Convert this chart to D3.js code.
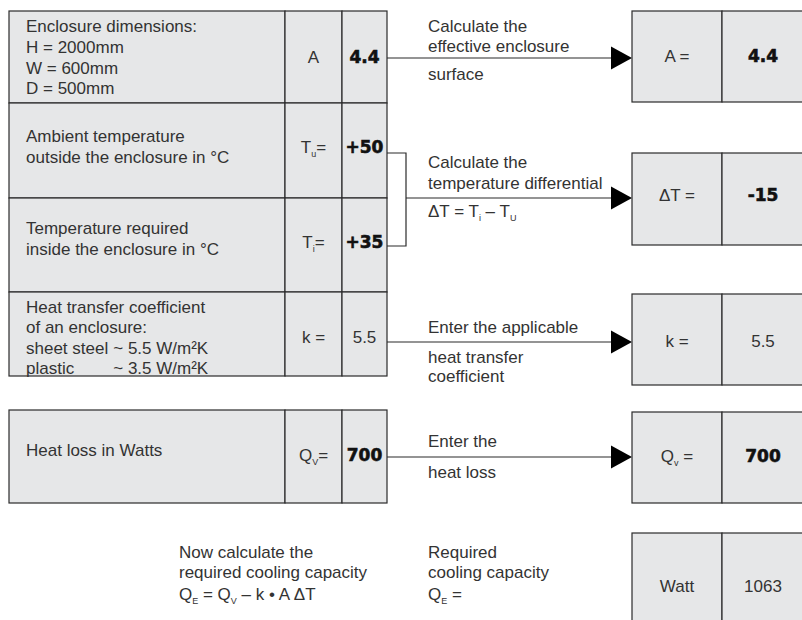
<!DOCTYPE html>
<html><head><meta charset="utf-8">
<script src="https://cdn.jsdelivr.net/npm/d3@7"></script>
<style>
html,body{margin:0;padding:0;background:#fff;}
svg{display:block;}
</style></head>
<body>
<svg id="c" width="802" height="620"></svg>
<script>
// ---------------- DATA ----------------
const inputLabels = [
  ["Enclosure dimensions:", "H = 2000mm", "W = 600mm", "D = 500mm"],
  ["Ambient temperature", "outside the enclosure in °C"],
  ["Temperature required", "inside the enclosure in °C"],
  ["Heat transfer coefficient", "of an enclosure:", "sheet steel|~ 5.5 W/m²K", "plastic|~ 3.5 W/m²K"],
  ["Heat loss in Watts"]
];
const inputSymbols = [["A", "", ""], ["T", "u", "="], ["T", "i", "="], ["k =", "", ""], ["Q", "V", "="]];
const inputValues = ["4.4", "+50", "+35", "5.5", "700"];
const inputBold = [true, true, true, false, true];

const stepTexts = [
  ["Calculate the", "effective enclosure", "surface"],
  ["Calculate the", "temperature differential", "ΔT = T_i – T_U"],
  ["Enter the applicable", "heat transfer", "coefficient"],
  ["Enter the", "heat loss"]
];
const resultSymbols = [["A =", "", ""], ["ΔT =", "", ""], ["k =", "", ""], ["Q", "v", " ="], ["Watt", "", ""]];
const resultValues = ["4.4", "-15", "5.5", "700", "1063"];
const resultBold = [true, true, false, true, false];

const finalLeft = ["Now calculate the", "required cooling capacity", "Q_E = Q_V – k • A ΔT"];
const finalMid = ["Required", "cooling capacity", "Q_E ="];

// ---------------- LAYOUT ----------------
const svg = d3.select("#c");
const FONT = "'Liberation Sans', Arial, Helvetica, sans-serif";
const BOLDFONT = "'DejaVu Sans', 'Liberation Sans', Arial, sans-serif";
const FS = 17, SUB = 9;
const TXT = "#333";
const FILL = "#e6e7e8";
const STROKE = "#2b2b2b";

const colX = { left: 9, sym: 285, val: 342, right: 387, bracket: 406, text: 428, arrowEnd: 632, rLeft: 632, rDiv: 722, rRight: 804 };

const inRows = [[11, 103], [103, 198], [198, 292], [292, 376], [410, 503]];
const inBaselines = [[32, 53, 74, 94], [142, 163], [234, 255], [313, 333, 354, 374], [456]];
const inSymBase = [63, 153, 248, 343, 461];
const resRows = [[11, 102], [153, 245], [294, 385], [412, 503], [533, 640]];
const resBase = [62, 201, 347, 462, 592];
const arrowY = [58, 198, 342, 457];
const stepBase = [[32, 52, 80], [168, 189, 217], [333, 363, 382], [447, 478]];

function addRich(g, str, xx, yy, anchor) {
  const t = g.append("text").attr("x", xx).attr("y", yy)
    .attr("font-family", FONT).attr("font-size", FS).attr("fill", TXT)
    .attr("text-anchor", anchor || "start");
  const parts = str.split(/(_[A-Za-z])/);
  let lowered = false;
  parts.forEach(p => {
    if (!p) return;
    if (p[0] === "_") {
      t.append("tspan").attr("font-size", SUB).attr("dy", 4).text(p.slice(1));
      lowered = true;
    } else {
      const s = t.append("tspan").text(p);
      if (lowered) { s.attr("dy", -4); lowered = false; }
    }
  });
  return t;
}
function addSymbol(g, sym, xx, yy) {
  const t = g.append("text").attr("x", xx).attr("y", yy)
    .attr("font-family", FONT).attr("font-size", FS).attr("fill", TXT)
    .attr("text-anchor", "middle");
  t.append("tspan").text(sym[0]);
  if (sym[1]) {
    t.append("tspan").attr("font-size", SUB).attr("dy", 4).text(sym[1]);
    t.append("tspan").attr("dy", -4).text(sym[2]);
  }
}
function addValue(g, v, bold, xx, yy) {
  const t = g.append("text").attr("x", xx).attr("y", yy)
    .attr("text-anchor", "middle")
    .attr("font-family", bold ? BOLDFONT : FONT)
    .attr("font-weight", bold ? 700 : 400)
    .attr("font-size", FS)
    .attr("fill", bold ? "#111" : TXT)
    .text(v);
  if (bold) t.attr("stroke", "#111").attr("stroke-width", 0.6);
}

// -------- left input table --------
const gL = svg.append("g");
let tildeX = 113;
const rowsL = gL.selectAll("g.row").data(inputLabels).join("g").attr("class", "row");
rowsL.each(function (lines, i) {
  const g = d3.select(this);
  const [y0, y1] = inRows[i];
  [[colX.left, colX.sym], [colX.sym, colX.val], [colX.val, colX.right]].forEach(([a, b]) => {
    g.append("rect").attr("x", a).attr("y", y0).attr("width", b - a).attr("height", y1 - y0)
      .attr("fill", FILL).attr("stroke", STROKE).attr("stroke-width", 1.2);
  });
  lines.forEach((ln, j) => {
    const parts = ln.split("|");
    if (parts.length > 1 && parts[0].startsWith("sheet")) {
      const t0 = addRich(g, parts[0], 26, inBaselines[i][j]);
      tildeX = 26 + t0.node().getComputedTextLength() + 5;
      addRich(g, parts[1], tildeX, inBaselines[i][j]);
    } else if (parts.length > 1) {
      addRich(g, parts[0], 26, inBaselines[i][j]);
      addRich(g, parts[1], tildeX, inBaselines[i][j]);
    } else {
      addRich(g, parts[0], 26, inBaselines[i][j]);
    }
  });
  addSymbol(g, inputSymbols[i], (colX.sym + colX.val) / 2, inSymBase[i]);
  addValue(g, inputValues[i], inputBold[i], (colX.val + colX.right) / 2, inSymBase[i]);
});

// -------- connectors & arrows --------
const gA = svg.append("g");
gA.append("path")
  .attr("d", `M${colX.right},153H${colX.bracket}V246H${colX.right}`)
  .attr("fill", "none").attr("stroke", STROKE).attr("stroke-width", 1.2);
arrowY.forEach((yy, i) => {
  const x0 = i === 1 ? colX.bracket : colX.right;
  gA.append("line").attr("x1", x0).attr("x2", colX.arrowEnd - 18).attr("y1", yy).attr("y2", yy)
    .attr("stroke", STROKE).attr("stroke-width", 1.2);
  gA.append("path")
    .attr("d", `M${colX.arrowEnd - 21},${yy - 11.5}L${colX.arrowEnd},${yy}L${colX.arrowEnd - 21},${yy + 11.5}Z`)
    .attr("fill", "#000");
});
stepTexts.forEach((lines, i) => {
  lines.forEach((ln, j) => addRich(gA, ln, colX.text, stepBase[i][j]));
});

// -------- right result boxes --------
const gR = svg.append("g");
resultValues.forEach((v, i) => {
  const [y0, y1] = resRows[i];
  [[colX.rLeft, colX.rDiv], [colX.rDiv, colX.rRight]].forEach(([a, b]) => {
    gR.append("rect").attr("x", a).attr("y", y0).attr("width", b - a).attr("height", y1 - y0)
      .attr("fill", FILL).attr("stroke", STROKE).attr("stroke-width", 1.2);
  });
  addSymbol(gR, resultSymbols[i], (colX.rLeft + colX.rDiv) / 2, resBase[i]);
  addValue(gR, v, resultBold[i], (colX.rDiv + colX.rRight) / 2, resBase[i]);
});

// -------- final formula text --------
const finalBase = [558, 578, 600];
finalLeft.forEach((ln, j) => addRich(svg, ln, 179, finalBase[j]));
finalMid.forEach((ln, j) => addRich(svg, ln, colX.text, finalBase[j]));
</script>
</body></html>
